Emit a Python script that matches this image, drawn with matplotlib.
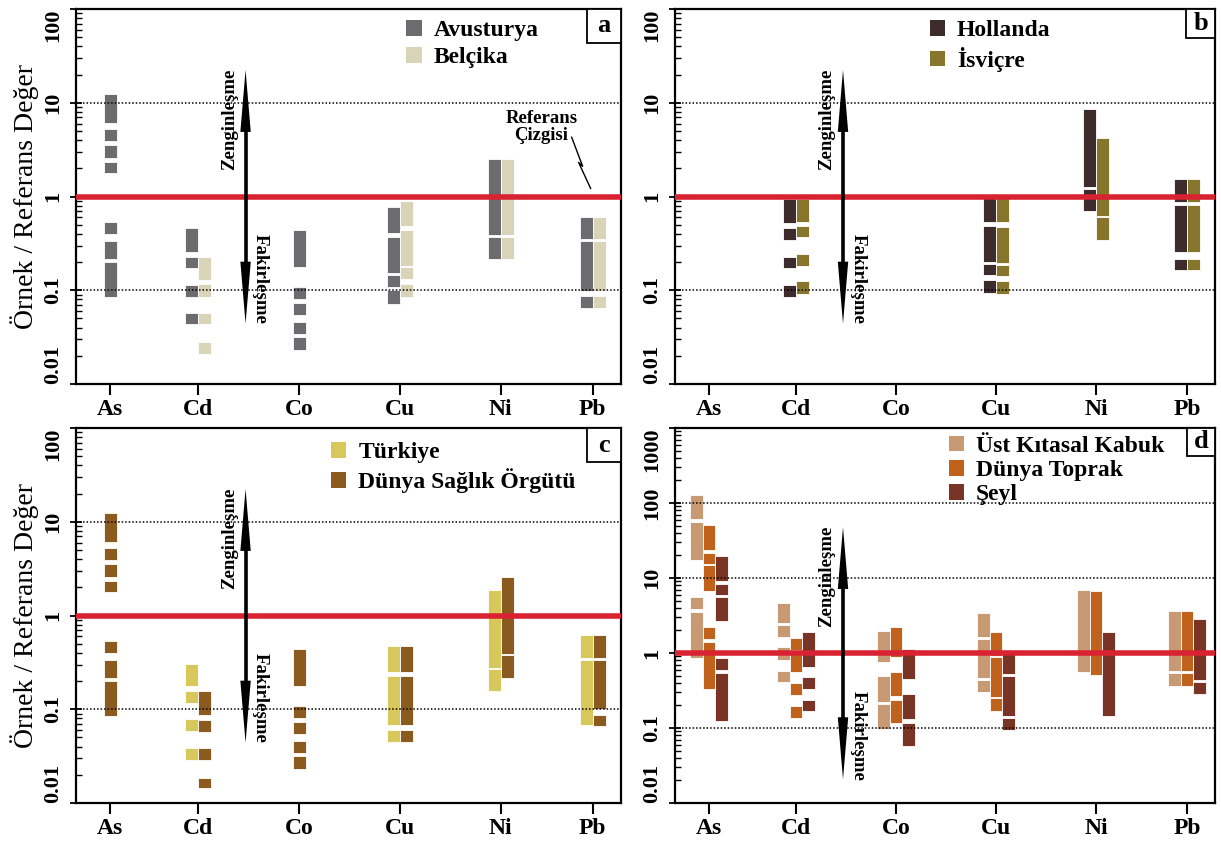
import numpy as np
import matplotlib; matplotlib.use("Agg")
import matplotlib.pyplot as plt
from matplotlib.patches import Patch, Rectangle
from matplotlib.ticker import LogLocator, NullFormatter

plt.rcParams["font.family"] = ["Liberation Serif", "DejaVu Serif"]
plt.rcParams["font.weight"] = "bold"

ELEMENTS = ["As", "Cd", "Co", "Cu", "Ni", "Pb"]
XPOS = [0.34, 1.21, 2.21, 3.21, 4.21, 5.12]

# --- a: Avusturya / Belcika  (segments low, high)
AVUSTURYA = {
    "As": [(6.1, 12.3), (3.9, 5.3), (2.6, 3.58), (1.78, 2.35), (0.40, 0.54), (0.218, 0.338), (0.085, 0.198)],
    "Cd": [(0.257, 0.458), (0.171, 0.228), (0.085, 0.115), (0.0432, 0.0567)],
    "Co": [(0.179, 0.44), (0.0814, 0.109), (0.0544, 0.0738), (0.0338, 0.0458), (0.0233, 0.0316)],
    "Cu": [(0.408, 0.769), (0.151, 0.367), (0.109, 0.146), (0.0708, 0.1)],
    "Ni": [(0.388, 2.53), (0.215, 0.373)],
    "Pb": [(0.352, 0.61), (0.098, 0.332), (0.0652, 0.0863)],
}
BELCIKA = {
    "Cd": [(0.128, 0.228), (0.085, 0.116), (0.0432, 0.0567), (0.0211, 0.0282)],
    "Cu": [(0.489, 0.906), (0.182, 0.44), (0.133, 0.175), (0.0856, 0.116)],
    "Ni": [(0.388, 2.53), (0.215, 0.373)],
    "Pb": [(0.352, 0.61), (0.098, 0.332), (0.0652, 0.0863)],
}
# --- b: Hollanda / Isvicre
HOLLANDA = {
    "Cd": [(0.518, 0.95), (0.343, 0.458), (0.171, 0.228), (0.085, 0.114)],
    "Cu": [(0.54, 0.97), (0.198, 0.481), (0.145, 0.19), (0.094, 0.128)],
    "Ni": [(1.26, 8.55), (0.708, 1.21)],
    "Pb": [(0.87, 1.52), (0.253, 0.82), (0.164, 0.218)],
}
ISVICRE = {
    "Cd": [(0.54, 0.95), (0.367, 0.489), (0.182, 0.243), (0.0906, 0.124)],
    "Cu": [(0.53, 0.97), (0.195, 0.47), (0.142, 0.186), (0.092, 0.125)],
    "Ni": [(0.626, 4.22), (0.343, 0.60)],
    "Pb": [(0.87, 1.52), (0.253, 0.82), (0.164, 0.218)],
}
# --- c: Turkiye / Dunya Saglik Orgutu
TURKIYE = {
    "Cd": [(0.175, 0.306), (0.116, 0.157), (0.0586, 0.078), (0.0291, 0.0382)],
    "Cu": [(0.249, 0.469), (0.068, 0.224), (0.045, 0.060)],
    "Ni": [(0.275, 1.87), (0.155, 0.268)],
    "Pb": [(0.352, 0.626), (0.068, 0.338)],
}
DSO = {
    "As": [(6.1, 12.3), (3.9, 5.3), (2.6, 3.58), (1.78, 2.35), (0.40, 0.54), (0.218, 0.338), (0.085, 0.198)],
    "Cd": [(0.0862, 0.155), (0.0577, 0.0769), (0.0287, 0.0382), (0.0143, 0.0187)],
    "Co": [(0.179, 0.44), (0.0814, 0.109), (0.0544, 0.0738), (0.0338, 0.0458), (0.0233, 0.0316)],
    "Cu": [(0.249, 0.469), (0.068, 0.224), (0.045, 0.060)],
    "Ni": [(0.388, 2.58), (0.218, 0.38)],
    "Pb": [(0.352, 0.626), (0.10, 0.338), (0.0663, 0.0877)],
}
# --- d: Ust Kitasal Kabuk / Dunya Toprak / Seyl
UKK = {
    "As": [(60.5, 129), (17.5, 55.7), (3.87, 5.66), (0.849, 3.57)],
    "Cd": [(2.52, 4.66), (1.62, 2.37), (0.815, 1.19), (0.406, 0.581)],
    "Co": [(0.766, 1.95), (0.224, 0.498), (0.0965, 0.208)],
    "Cu": [(1.62, 3.39), (0.463, 1.54), (0.298, 0.436)],
    "Ni": [(0.552, 7.02)],
    "Pb": [(0.581, 3.68), (0.366, 0.546)],
}
DUNYA_TOPRAK = {
    "As": [(23.8, 51.3), (15.5, 21.7), (6.8, 15.0), (1.54, 2.2), (0.33, 1.42)],
    "Cd": [(1.10, 1.57), (0.552, 1.05), (0.275, 0.393), (0.138, 0.198)],
    "Co": [(0.893, 2.25), (0.269, 0.563), (0.115, 0.235)],
    "Cu": [(0.921, 1.89), (0.261, 0.893), (0.17, 0.248)],
    "Ni": [(0.513, 6.67)],
    "Pb": [(0.581, 3.68), (0.366, 0.546)],
}
SEYL = {
    "As": [(9.07, 19.6), (6.02, 8.36), (2.65, 5.66), (0.593, 0.849), (0.125, 0.535)],
    "Cd": [(0.657, 1.89), (0.33, 0.473), (0.166, 0.235)],
    "Co": [(0.45, 1.13), (0.131, 0.283), (0.0578, 0.118)],
    "Cu": [(0.524, 0.97), (0.145, 0.493), (0.0936, 0.134)],
    "Ni": [(0.145, 1.89)],
    "Pb": [(0.436, 2.85), (0.283, 0.414)],
}

W, H = 1221, 843
def box(l, t, r, b):
    return [l / W, 1 - b / H, (r - l) / W, (b - t) / H]

PANELS = [
    # letter, rect, ymax, series, legend anchor, labelspacing, grid, arrow(y0,y1), zeng y, fakir y, letterbox px, ylabel
    ("a", box(76, 9, 621, 384), 100, [("Avusturya", "#6c6b6f", AVUSTURYA), ("Belçika", "#d9d3b8", BELCIKA)],
     (0.606, 0.970), 0.23, [10, 0.1], (0.044, 22.4), 6.7, 0.131, 34, True),
    ("b", box(675, 9, 1215, 384), 100, [("Hollanda", "#3e2b2c", HOLLANDA), ("İsviçre", "#86752a", ISVICRE)],
     (0.472, 0.970), 0.23, [10, 0.1], (0.044, 22.4), 6.7, 0.131, 29, False),
    ("c", box(76, 428, 621, 803), 100, [("Türkiye", "#d8c85c", TURKIYE), ("Dünya Sağlık Örgütü", "#8a5a1f", DSO)],
     (0.468, 0.963), 0.23, [10, 0.1], (0.044, 22.4), 6.7, 0.131, 34, True),
    ("d", box(675, 428, 1215, 803), 1000, [("Üst Kıtasal Kabuk", "#c89a73", UKK), ("Dünya Toprak", "#c0611c", DUNYA_TOPRAK), ("Şeyl", "#7a3426", SEYL)],
     (0.507, 0.980), 0.13, [100, 10, 0.1], (0.0207, 47.8), 10.6, 0.078, 28, False),
]

BW = 0.128
XARROW = 1.68
HEAD_LEN, HEAD_HW = 62, 5.2   # arrow head length / half width in pixels


def double_arrow(ax, x, y0, y1):
    t = ax.transData; inv = t.inverted()
    (px, py0), (_, py1) = t.transform([(x, y0), (x, y1)])
    b0, b1 = py0 + HEAD_LEN, py1 - HEAD_LEN
    ax.plot(inv.transform([(px, b0 - 2), (px, b1 + 2)])[:, 0], inv.transform([(px, b0 - 2), (px, b1 + 2)])[:, 1],
            color="k", lw=2.6, solid_capstyle="butt", zorder=5)
    for tip, base in ((py0, b0), (py1, b1)):
        tri = inv.transform([(px, tip), (px - HEAD_HW, base), (px + HEAD_HW, base)])
        ax.fill(tri[:, 0], tri[:, 1], color="k", lw=0, zorder=5)


fig = plt.figure(figsize=(12.21, 8.43), dpi=100)
for letter, rect, ymax, series, leg_anchor, lsp, grid, (ya0, ya1), yz, yf, lb, ylab in PANELS:
    ax = fig.add_axes(rect)
    ax.set_yscale("log")
    ax.set_xlim(0, 5.4); ax.set_ylim(0.01, ymax)
    for i, el in enumerate(ELEMENTS):
        present = [(n, c, d) for n, c, d in series if el in d]
        for j, (n, c, d) in enumerate(present):
            xc = XPOS[i] + (j - (len(present) - 1) / 2) * BW
            lo = np.array([s[0] for s in d[el]]); hi = np.array([s[1] for s in d[el]])
            ax.bar(np.full(len(lo), xc), hi - lo, bottom=lo, width=BW, color=c,
                   edgecolor="white", linewidth=0.6, zorder=2)
    for g in grid:
        ax.axhline(g, color="k", ls=(0, (1, 1.3)), lw=1.1, zorder=3)
    ax.axhline(1, color="#d92232", lw=4, zorder=4)
    double_arrow(ax, XARROW, ya0, ya1)
    ax.set_xlim(0, 5.4); ax.set_ylim(0.01, ymax)
    ax.text(XARROW - 0.16, yz, "Zenginleşme", rotation=90, ha="center", va="center", fontsize=13.5, zorder=6)
    ax.text(XARROW + 0.15, yf, "Fakirleşme", rotation=270, ha="center", va="center", fontsize=13.5, zorder=6)

    ax.set_xticks(XPOS, ELEMENTS, fontsize=17)
    ax.tick_params(axis="x", direction="out", length=8, width=1.5, pad=3, top=False)
    decades = [10.0 ** k for k in range(-2, int(np.log10(ymax)) + 1)]
    labs = [("%g" % v) for v in decades]
    ax.set_yticks(decades, labs, rotation=90, va="center", fontsize=16)
    tl = ax.get_yticklabels(); tl[0].set_va("bottom"); tl[-1].set_va("top")
    ax.yaxis.set_minor_locator(LogLocator(base=10, subs=np.arange(2, 10)))
    ax.yaxis.set_minor_formatter(NullFormatter())
    ax.tick_params(axis="y", which="major", direction="inout", length=9, width=1.3, pad=5, right=False)
    ax.tick_params(axis="y", which="minor", direction="in", length=4.5, width=1.0, right=False)
    for sp in ax.spines.values():
        sp.set_linewidth(1.6)
    if ylab:
        ax.set_ylabel("Örnek / Referans Değer", fontsize=20, labelpad=3)

    handles = [Patch(facecolor=c, edgecolor="none", label=n) for n, c, _ in series]
    ax.legend(handles=handles, loc="upper left", bbox_to_anchor=leg_anchor, frameon=False, borderpad=0,
              borderaxespad=0, handlelength=0.65, handleheight=0.65, handletextpad=0.5, labelspacing=lsp,
              prop={"family": "Liberation Serif", "weight": "bold", "size": 17})

    # corner letter box
    bw = lb / (rect[2] * W); bh = lb / (rect[3] * H)
    ax.add_patch(Rectangle((1 - bw, 1 - bh), bw, bh, transform=ax.transAxes, facecolor="white",
                           edgecolor="k", lw=1.3, zorder=7, clip_on=False))
    ax.text(1 - bw / 2, 1 - bh / 2, letter, transform=ax.transAxes, ha="center", va="center",
            fontsize=19, zorder=8)

    if letter == "a":
        ax.text(4.61, 5.5, "Referans\nÇizgisi", ha="center", va="center", fontsize=13.5, linespacing=1.0, zorder=6)
        ax.plot([4.911, 5.02, 4.98, 5.099], [4.29, 2.10, 2.31, 1.22], color="k", lw=1.0, zorder=6)

fig.savefig("out.png", dpi=100)
